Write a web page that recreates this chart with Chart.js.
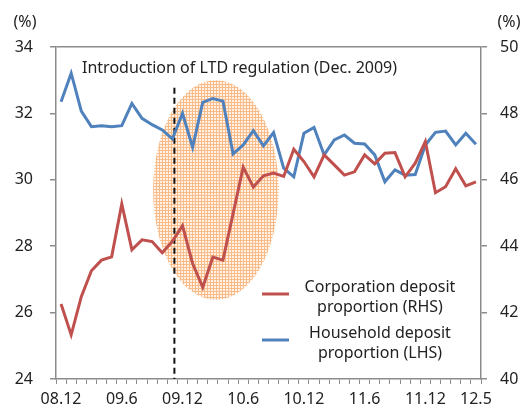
<!DOCTYPE html>
<html>
<head>
<meta charset="utf-8">
<script src="https://cdn.jsdelivr.net/npm/chart.js@4.4.1/dist/chart.umd.min.js"></script>
<style>
  body { margin: 0; background: #fff; }
  canvas { display: block; }
</style>
</head>
<body>
<canvas id="chart" width="525" height="408"></canvas>
<script>
// months 08.12 .. 12.5
const months = [
  '08.12',
  '09.1', '09.2', '09.3', '09.4', '09.5', '09.6', '09.7', '09.8', '09.9', '09.10', '09.11', '09.12',
  '10.1', '10.2', '10.3', '10.4', '10.5', '10.6', '10.7', '10.8', '10.9', '10.10', '10.11', '10.12',
  '11.1', '11.2', '11.3', '11.4', '11.5', '11.6', '11.7', '11.8', '11.9', '11.10', '11.11', '11.12',
  '12.1', '12.2', '12.3', '12.4', '12.5'
];
const shownLabels = ['08.12', '09.6', '09.12', '10.6', '10.12', '11.6', '11.12', '12.5'];

// household deposit proportion, left axis (%)
const household = [
  32.35, 33.21, 32.07, 31.60, 31.63, 31.60, 31.63, 32.30, 31.85, 31.66, 31.50, 31.23, 32.00,
  30.98, 32.33, 32.45, 32.37, 30.78, 31.05, 31.48, 31.02, 31.42, 30.35, 30.09, 31.40,
  31.58, 30.75, 31.20, 31.35, 31.10, 31.08, 30.75, 29.94, 30.30, 30.14, 30.16, 31.05,
  31.43, 31.47, 31.05, 31.40, 31.07
];
// corporation deposit proportion, right axis (%)
const corporation = [
  42.26, 41.33, 42.48, 43.26, 43.58, 43.68, 45.27, 43.89, 44.19, 44.14, 43.80, 44.15, 44.62,
  43.48, 42.76, 43.67, 43.58, 44.98, 46.38, 45.78, 46.12, 46.20, 46.10, 46.92, 46.55,
  46.09, 46.75, 46.45, 46.14, 46.24, 46.75, 46.48, 46.80, 46.82, 46.09, 46.50, 47.15,
  45.61, 45.79, 46.33, 45.82, 45.94
];

const leftTicks = [24, 26, 28, 30, 32, 34];
const rightTicks = [40, 42, 44, 46, 48, 50];

const axisColor = '#8c8c8c';
const textColor = '#222';
const fontFamily = "'Noto Sans', 'DejaVu Sans', sans-serif";
const red = '#c0504d';
const blue = '#4f81bd';

// striped orange fill for the highlighted period
function makePattern() {
  const c = document.createElement('canvas');
  c.width = 3; c.height = 3;
  const g = c.getContext('2d');
  g.fillStyle = '#fff1e5';
  g.fillRect(0, 0, 3, 3);
  g.fillStyle = '#f9bb88';
  g.fillRect(0, 0, 3, 1);
  g.fillRect(0, 0, 1, 3);
  return g.createPattern(c, 'repeat');
}

const highlightPlugin = {
  id: 'highlight',
  beforeDatasetsDraw(chart) {
    const ctx = chart.ctx;
    const x = chart.scales.x;
    const y = chart.scales.y;
    // ellipse around the period after the regulation
    const x0 = x.getPixelForValue(9.1), x1 = x.getPixelForValue(21.5);
    const y0 = y.getPixelForValue(33.0), y1 = y.getPixelForValue(26.38);
    ctx.save();
    ctx.beginPath();
    ctx.ellipse((x0 + x1) / 2, (y0 + y1) / 2, (x1 - x0) / 2, (y1 - y0) / 2, 0, 0, Math.PI * 2);
    ctx.fillStyle = makePattern();
    ctx.fill();
    // dashed regulation line
    const xd = x.getPixelForValue(11.2);
    ctx.beginPath();
    ctx.setLineDash([6, 4]);
    ctx.strokeStyle = '#111';
    ctx.lineWidth = 2;
    ctx.moveTo(xd, y.getPixelForValue(32.77));
    ctx.lineTo(xd, chart.chartArea.bottom);
    ctx.stroke();
    ctx.setLineDash([]);
    // annotation text
    ctx.fillStyle = textColor;
    ctx.font = '16px ' + fontFamily;
    ctx.textAlign = 'left';
    ctx.textBaseline = 'middle';
    ctx.fillText('Introduction of LTD regulation (Dec. 2009)', 82, 68);
    ctx.restore();
  }
};

const extrasPlugin = {
  id: 'extras',
  afterDraw(chart) {
    const ctx = chart.ctx;
    ctx.save();
    ctx.fillStyle = textColor;
    ctx.font = '16px ' + fontFamily;
    ctx.textBaseline = 'middle';
    ctx.textAlign = 'center';
    ctx.fillText('(%)', 25, 22);
    ctx.fillText('(%)', 509, 22);

    // legend
    const items = [
      { ds: chart.data.datasets[0], lines: ['Corporation deposit', 'proportion (RHS)'], y: 287 },
      { ds: chart.data.datasets[1], lines: ['Household deposit', 'proportion (LHS)'], y: 333 }
    ];
    items.forEach(it => {
      ctx.strokeStyle = it.ds.borderColor;
      ctx.lineWidth = 3;
      ctx.beginPath();
      ctx.moveTo(262, it.y + 7);
      ctx.lineTo(289, it.y + 7);
      ctx.stroke();
      it.lines.forEach((t, i) => ctx.fillText(t, 380, it.y + i * 20));
    });
    ctx.restore();
  }
};

new Chart(document.getElementById('chart'), {
  type: 'line',
  data: {
    labels: months,
    datasets: [
      {
        label: 'Corporation deposit proportion (RHS)',
        data: corporation,
        borderColor: red,
        borderWidth: 3,
        pointRadius: 0,
        yAxisID: 'y2'
      },
      {
        label: 'Household deposit proportion (LHS)',
        data: household,
        borderColor: blue,
        borderWidth: 3,
        pointRadius: 0,
        yAxisID: 'y'
      }
    ]
  },
  options: {
    responsive: false,
    animation: false,
    layout: { padding: { top: 47, left: 0, right: 0, bottom: 0 } },
    plugins: {
      legend: { display: false },
      tooltip: { enabled: false }
    },
    scales: {
      x: {
        type: 'category',
        offset: true,
        grid: {
          offset: true,
          drawOnChartArea: false,
          tickLength: 5,
          color: axisColor
        },
        border: { color: axisColor, width: 1.5 },
        ticks: {
          autoSkip: false,
          maxRotation: 0,
          padding: 6,
          color: textColor,
          font: { size: 16, family: fontFamily },
          callback: (v, i) => shownLabels.includes(months[i]) ? months[i] : ''
        },
        afterFit: s => { s.height = 29; }
      },
      y: {
        position: 'left',
        min: leftTicks[0],
        max: leftTicks[leftTicks.length - 1],
        afterBuildTicks: s => { s.ticks = leftTicks.map(v => ({ value: v })); },
        grid: {
          color: c => (c.tick && c.tick.value === 34) ? axisColor : 'transparent',
          tickColor: axisColor,
          tickLength: 6,
          lineWidth: 1.5
        },
        border: { color: axisColor, width: 1.5 },
        ticks: {
          padding: 17,
          color: textColor,
          font: { size: 16, family: fontFamily }
        },
        afterFit: s => { s.width = 56; }
      },
      y2: {
        position: 'right',
        min: rightTicks[0],
        max: rightTicks[rightTicks.length - 1],
        afterBuildTicks: s => { s.ticks = rightTicks.map(v => ({ value: v })); },
        grid: {
          drawOnChartArea: false,
          color: axisColor,
          tickLength: 6,
          lineWidth: 1.5
        },
        border: { color: axisColor, width: 1.5 },
        ticks: {
          padding: 13,
          color: textColor,
          font: { size: 16, family: fontFamily }
        },
        afterFit: s => { s.width = 44; }
      }
    }
  },
  plugins: [highlightPlugin, extrasPlugin]
});
</script>
</body>
</html>
